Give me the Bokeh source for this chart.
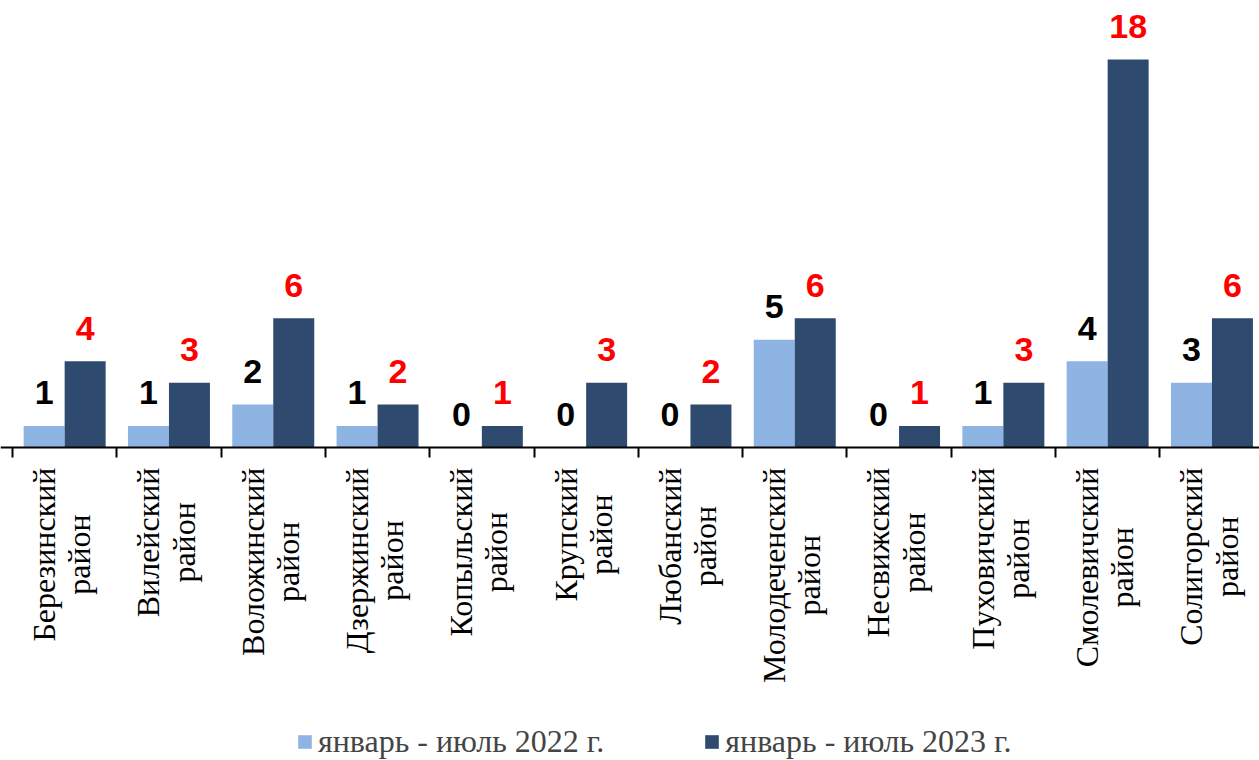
import numpy as np
from math import pi
from bokeh.plotting import figure
from bokeh.models import (ColumnDataSource, Range1d, LinearAxis, FixedTicker,
                          Legend, LegendItem)
from bokeh.transform import dodge
from bokeh.core.properties import value
from bokeh.embed import file_html
from bokeh.resources import INLINE

# ---- data ----
districts = ["Березинский", "Вилейский", "Воложинский", "Дзержинский",
             "Копыльский", "Крупский", "Любанский", "Молодеченский",
             "Несвижский", "Пуховичский", "Смолевичский", "Солигорский"]
district_suffix = "район"
values_2022 = [1, 1, 2, 1, 0, 0, 0, 5, 0, 1, 4, 3]
values_2023 = [4, 3, 6, 2, 1, 3, 2, 6, 1, 3, 18, 6]
series_names = ["январь - июль 2022 г.", "январь - июль 2023 г."]

# ---- styling ----
W, H = 1259, 760
color_2022 = "#8EB4E3"
color_2023 = "#2E4A6E"
px_per_cat = 104.3
px_per_unit = 21.56
baseline_px = 447
left_px = 12

n = len(districts)
src = ColumnDataSource(dict(
    x=np.arange(n) + 0.5,
    cat=[d + "\n" + district_suffix for d in districts],
    v22=values_2022, v23=values_2023,
    t22=[str(v) for v in values_2022], t23=[str(v) for v in values_2023],
))

x0 = -left_px / px_per_cat
x_range = Range1d(x0, x0 + W / px_per_cat)
y_range = Range1d(-(H - baseline_px) / px_per_unit, baseline_px / px_per_unit)

p = figure(width=W, height=H, x_range=x_range, y_range=y_range,
           output_backend="svg", toolbar_location=None,
           x_axis_location=None, y_axis_location=None,
           min_border=0, outline_line_color=None)
p.grid.visible = False

bw = 0.393
off = bw / 2
r22 = p.vbar(x=dodge("x", -off), top="v22", width=bw, source=src,
             fill_color=color_2022, line_color=None)
r23 = p.vbar(x=dodge("x", off), top="v23", width=bw, source=src,
             fill_color=color_2023, line_color=None)

lab_font = value("Liberation Sans")
p.text(x=dodge("x", -off), y="v22", text="t22", source=src,
       text_font=lab_font, text_font_style="bold", text_font_size="34px",
       text_color="black", text_align="center", text_baseline="alphabetic",
       y_offset=-33)
p.text(x=dodge("x", off), y="v23", text="t23", source=src,
       text_font=lab_font, text_font_style="bold", text_font_size="34px",
       text_color="#FF0000", text_align="center", text_baseline="alphabetic",
       y_offset=-33)

# category labels (rotated, two lines, centered)
p.text(x="x", y=0, text="cat", source=src, angle=pi / 2,
       anchor="center_right", text_align="center", text_baseline="middle",
       x_offset=-3, y_offset=20, text_font=value("Liberation Serif"),
       text_font_size="32px", text_line_height=0.98, text_color="black")

axis = LinearAxis(ticker=FixedTicker(ticks=[], minor_ticks=list(range(n))),
                  fixed_location=0,
                  major_tick_line_color=None, major_label_text_font_size="0px",
                  minor_tick_in=0, minor_tick_out=10, minor_tick_line_width=2,
                  minor_tick_line_color="black",
                  axis_line_width=2, axis_line_color="black")
p.add_layout(axis, "below")

legend = Legend(items=[LegendItem(label=series_names[0], renderers=[r22]),
                       LegendItem(label=series_names[1], renderers=[r23])],
                orientation="horizontal", location=(296, 0),
                glyph_width=17, glyph_height=17,
                label_text_font="Liberation Serif", label_text_font_size="32px",
                spacing=99, label_standoff=5, padding=0, margin=0,
                border_line_color=None, background_fill_alpha=0)
p.add_layout(legend, "center")

open("out.html", "w").write(file_html(p, INLINE))
